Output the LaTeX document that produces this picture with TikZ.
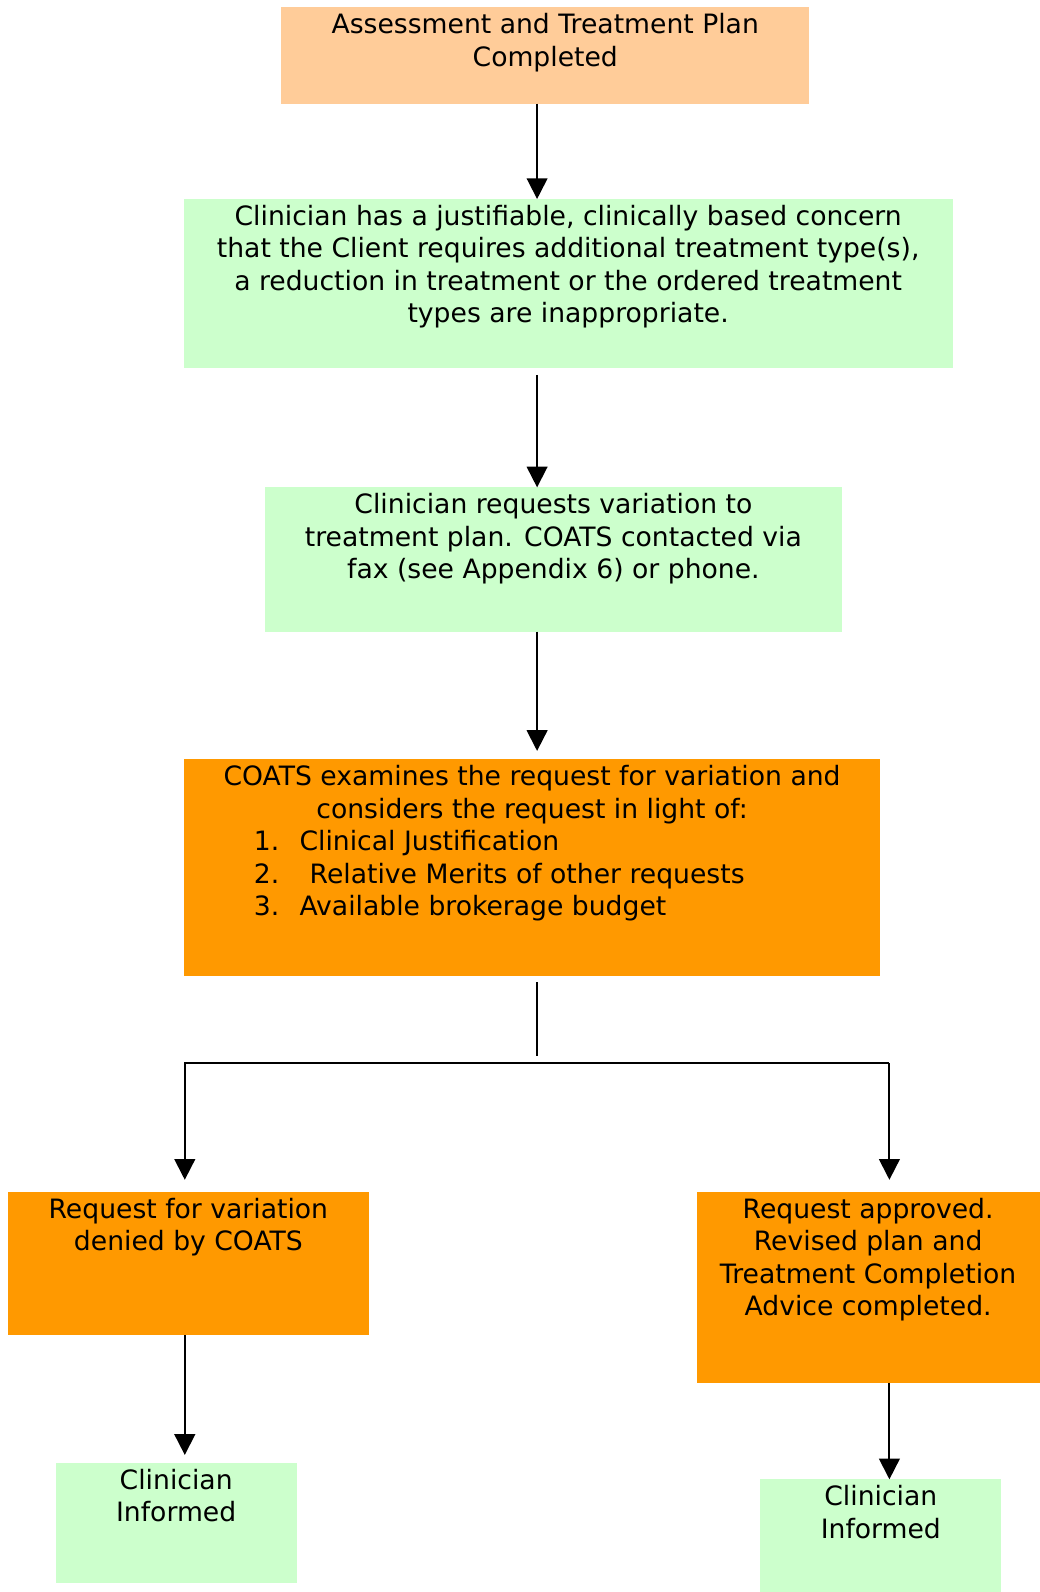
\documentclass[tikz,border=0pt]{standalone}
\usepackage{fontspec}
\setmainfont{DejaVu Sans}
\usetikzlibrary{arrows.meta}

\definecolor{peach}{HTML}{FFCC99}
\definecolor{mint}{HTML}{CCFFCC}
\definecolor{amber}{HTML}{FF9900}

% text of a box: top aligned, centred
\newcommand{\boxtxt}[3]{\parbox[t][#2][t]{#1}{\centering\rule{0pt}{0.65cm}#3}}

\begin{document}
\begin{tikzpicture}[x=0.025cm,y=-0.025cm,
  box/.style={anchor=north west,inner sep=0pt,outer sep=0pt,
    font=\fontsize{18.65pt}{22.76pt}\selectfont},
  arr/.style={-{Triangle[width=0.51cm,length=0.51cm]},line width=1.3pt},
  line/.style={line width=1.3pt}]
\useasboundingbox (0,0) rectangle (1024,1568);

\node (b1) at (277,7) [box,fill=peach] {\boxtxt{13cm}{2.375cm}{Assessment and Treatment Plan\\Completed}};
\node (b2) at (181,196) [box,fill=mint] {\boxtxt{18.925cm}{4.15cm}{Clinician has a justifiable, clinically based concern\\that the Client requires additional treatment type(s),\\a reduction in treatment or the ordered treatment\\types are inappropriate.}};
\node (b3) at (261,480) [box,fill=mint] {\boxtxt{14.2cm}{3.55cm}{Clinician requests variation to\\treatment plan. COATS contacted via\\fax (see Appendix 6) or phone.}};
\node (b4) at (181,748) [box,fill=amber] {\boxtxt{17.15cm}{5.325cm}{COATS examines the request for variation and\\considers the request in light of:\par
  \raggedright
  \hspace*{1.725cm}\makebox[1.125cm][l]{1.}Clinical Justification\\
  \hspace*{1.725cm}\makebox[1.375cm][l]{2.}Relative Merits of other requests\\
  \hspace*{1.725cm}\makebox[1.125cm][l]{3.}Available brokerage budget}};
\node (b5) at (8,1174) [box,fill=amber] {\boxtxt{8.875cm}{3.525cm}{Request for variation\\denied by COATS}};
\node (b6) at (686,1174) [box,fill=amber] {\boxtxt{8.45cm}{4.7cm}{Request approved.\\Revised plan and\\Treatment Completion\\Advice completed.}};
\node (b7) at (55,1441) [box,fill=mint] {\boxtxt{5.925cm}{2.95cm}{Clinician\\Informed}};
\node (b8) at (749,1457) [box,fill=mint] {\boxtxt{5.925cm}{2.775cm}{Clinician\\Informed}};

\coordinate (mid) at (529,0);
\coordinate (lft) at (182,0);
\coordinate (rgt) at (876,0);
\coordinate (bar) at (0,1047);

\draw [arr] (b1.south -| mid) -- (b2.north -| mid);
\draw [arr,shorten <=0.18cm] (b2.south -| mid) -- (b3.north -| mid);
\draw [arr,shorten >=0.21cm] (b3.south -| mid) -- (b4.north -| mid);
\draw [line,shorten <=0.16cm,shorten >=0.17cm] (b4.south -| mid) -- (mid |- bar);
\draw [arr,shorten >=0.3cm] (bar -| rgt) -- (bar -| lft) -- (b5.north -| lft);
\draw [arr,shorten >=0.3cm] (bar -| rgt) -- (b6.north -| rgt);
\draw [arr,shorten >=0.2cm] (b5.south -| lft) -- (b7.north -| lft);
\draw [arr] (b6.south -| rgt) -- (b8.north -| rgt);

\end{tikzpicture}
\end{document}
